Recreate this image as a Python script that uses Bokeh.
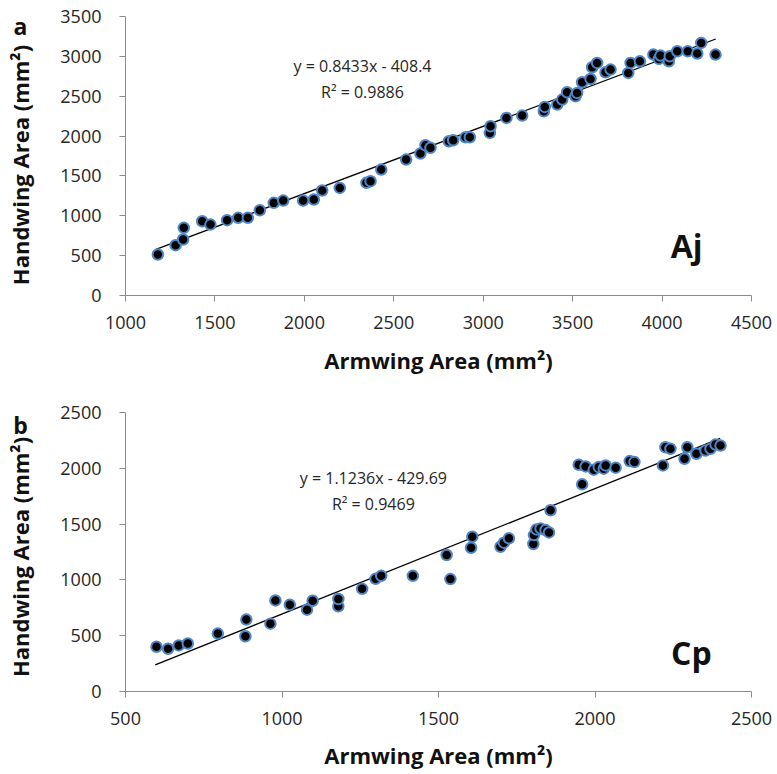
import math
from bokeh.plotting import figure
from bokeh.layouts import column, row
from bokeh.models import Range1d, Label, FixedTicker
from bokeh.core.properties import value
from bokeh.embed import file_html
from bokeh.resources import INLINE

# ---- Panel a (Aj) ----
aj_arm = [1181, 1280, 1322, 1326, 1429, 1475, 1568, 1630, 1684, 1751, 1829, 1882,
          1993, 2053, 2100, 2198, 2347, 2370, 2430, 2569, 2649, 2677, 2705,
          2808, 2832, 2901, 2925, 3037, 3041, 3130, 3218, 3339, 3344, 3414, 3442,
          3469, 3516, 3525, 3553, 3600, 3609, 3637, 3684, 3712, 3811, 3824, 3876,
          3951, 3982, 3991, 4038, 4043, 4085, 4144, 4197, 4219, 4299]
aj_hand = [514, 631, 702, 849, 932, 890, 945, 974, 974, 1070, 1162, 1191,
           1191, 1204, 1317, 1350, 1413, 1434, 1580, 1705, 1781, 1885, 1852,
           1935, 1948, 1985, 1985, 2040, 2123, 2228, 2257, 2311, 2366, 2395, 2458,
           2550, 2499, 2541, 2675, 2717, 2863, 2918, 2800, 2834, 2792, 2918, 2938,
           3022, 2968, 3010, 2938, 3001, 3064, 3064, 3035, 3169, 3022]
aj_slope, aj_icpt = 0.8433, -408.4
aj_fit_x = [1170, 4300]

# ---- Panel b (Cp) ----
cp_arm = [599, 636, 670, 699, 795, 883, 886, 963, 979, 1025, 1080, 1098, 1180, 1180,
          1256, 1299, 1317, 1418, 1526, 1538, 1604, 1608, 1698, 1709, 1725, 1803,
          1805, 1813, 1826, 1842, 1853, 1858, 1948, 1959, 1970, 1996, 2012, 2028,
          2034, 2066, 2111, 2126, 2217, 2225, 2241, 2286, 2295, 2324, 2353, 2369,
          2385, 2401]
cp_hand = [401, 383, 413, 430, 519, 495, 644, 608, 816, 778, 733, 813, 763, 829,
           920, 1009, 1036, 1036, 1223, 1007, 1288, 1387, 1297, 1333, 1372, 1321,
           1401, 1452, 1461, 1446, 1425, 1624, 2031, 1856, 2016, 1987, 2010, 1996,
           2025, 2005, 2064, 2055, 2025, 2188, 2174, 2085, 2188, 2130, 2159, 2174,
           2212, 2203]
cp_slope, cp_icpt = 1.1236, -429.69
cp_fit_x = [595, 2400]

FONT = "Open Sans"
AXIS_COL = "#8c8c8c"
TXT_COL = "#262626"
STRIP_W = 36
TOTAL_W = 773


def make_strip(h, y_rng, top, bottom, letter, letter_y, ylabel, ylabel_y):
    # narrow companion plot holding the panel letter and the rotated y title;
    # its frame is aligned with the panel frame, so it shares the panel's y range
    s = figure(width=STRIP_W, height=h, output_backend="svg", toolbar_location=None,
               x_range=Range1d(0, STRIP_W), y_range=Range1d(*y_rng),
               x_axis_type=None, y_axis_type=None,
               min_border_left=0, min_border_right=0,
               min_border_top=top, min_border_bottom=bottom)
    s.outline_line_color = None
    s.xgrid.visible = False
    s.ygrid.visible = False
    s.text(x=[20], y=[letter_y], text=[letter], text_font=value(FONT),
           text_font_style="bold", text_font_size="23px", text_align="center",
           text_baseline="alphabetic", text_color="#111111")
    s.text(x=[19], y=[ylabel_y], text=[ylabel], angle=math.pi / 2,
           text_font=value(FONT), text_font_style="bold", text_font_size="22px",
           text_align="center", text_baseline="middle", text_color="#111111")
    return s


def make_panel(xs, ys, slope, icpt, fit_x, xr, yr, ybounds, xticks, yticks, h, top,
               bottom, tick_standoff, xlab_standoff, name, name_xy, eq, eq_xy,
               r2, r2_xy):
    p = figure(width=TOTAL_W - STRIP_W, height=h, output_backend="svg",
               toolbar_location=None,
               x_range=Range1d(*xr), y_range=Range1d(*yr),
               min_border_left=125 - STRIP_W, min_border_right=TOTAL_W - 751,
               min_border_top=top, min_border_bottom=bottom)
    p.outline_line_color = None
    p.xgrid.visible = False
    p.ygrid.visible = False
    for ax in (p.xaxis[0], p.yaxis[0]):
        ax.axis_line_color = AXIS_COL
        ax.major_tick_line_color = AXIS_COL
        ax.minor_tick_line_color = None
        ax.major_tick_out = 6
        ax.major_tick_in = 0
        ax.major_label_text_font = FONT
        ax.major_label_text_font_size = "18px"
        ax.major_label_text_color = TXT_COL
    p.xaxis.ticker = FixedTicker(ticks=xticks)
    p.yaxis.ticker = FixedTicker(ticks=yticks)
    p.yaxis.bounds = ybounds
    p.xaxis.axis_label = "Armwing Area (mm²)"
    p.xaxis.axis_label_text_font = FONT
    p.xaxis.axis_label_text_font_style = "bold"
    p.xaxis.axis_label_text_font_size = "22px"
    p.xaxis.axis_label_text_color = "#111111"
    p.xaxis.major_label_standoff = tick_standoff
    p.yaxis.major_label_standoff = 18
    p.xaxis.axis_label_standoff = xlab_standoff

    fy = [slope * v + icpt for v in fit_x]
    p.line(fit_x, fy, line_color="black", line_width=1.3)
    p.scatter(xs, ys, size=10.5, fill_color="black", line_color="#4f86c6",
              line_width=2)

    p.add_layout(Label(x=name_xy[0], y=name_xy[1], text=name,
                       text_font=FONT, text_font_style="bold", text_font_size="32px",
                       text_align="center", text_baseline="alphabetic",
                       text_color="#111111"))
    p.add_layout(Label(x=eq_xy[0], y=eq_xy[1], text=eq,
                       text_font=FONT, text_font_size="16px",
                       text_align="center", text_baseline="alphabetic",
                       text_color=TXT_COL))
    p.add_layout(Label(x=r2_xy[0], y=r2_xy[1], text=r2,
                       text_font=FONT, text_font_size="16px",
                       text_align="center", text_baseline="alphabetic",
                       text_color=TXT_COL))
    return p


HA, HB = 377, 395
A_TOP, A_BOT = 16, HA - 296
B_TOP, B_BOT = 404 - HA, HB - (692 - HA)

a_yr = (0, 3500)
pa = make_panel(aj_arm, aj_hand, aj_slope, aj_icpt, aj_fit_x,
                (1000, 4500), a_yr, (0, 3500),
                list(range(1000, 4501, 500)), list(range(0, 3501, 500)),
                HA, A_TOP, A_BOT, 14, 13,
                "Aj", (4137, 625),
                "y = 0.8433x - 408.4", (2325, 2875),
                "R² = 0.9886", (2325, 2554))
sa = make_strip(HA, a_yr, A_TOP, A_BOT, "a", 3375, "Handwing Area (mm²)", 1637)

b_yr = (0, 2571)
pb = make_panel(cp_arm, cp_hand, cp_slope, cp_icpt, cp_fit_x,
                (500, 2500), b_yr, (0, 2500),
                list(range(500, 2501, 500)), list(range(0, 2501, 500)),
                HB, B_TOP, B_BOT, 14, 12,
                "Cp", (2308, 348),
                "y = 1.1236x - 429.69", (1292, 1917),
                "R² = 0.9469", (1292, 1679))
sb = make_strip(HB, b_yr, B_TOP, B_BOT, "b", 2384, "Handwing Area (mm²)", 1205)

layout = column(row(sa, pa, spacing=0), row(sb, pb, spacing=0), spacing=0)
open("out.html", "w").write(file_html(layout, INLINE))
